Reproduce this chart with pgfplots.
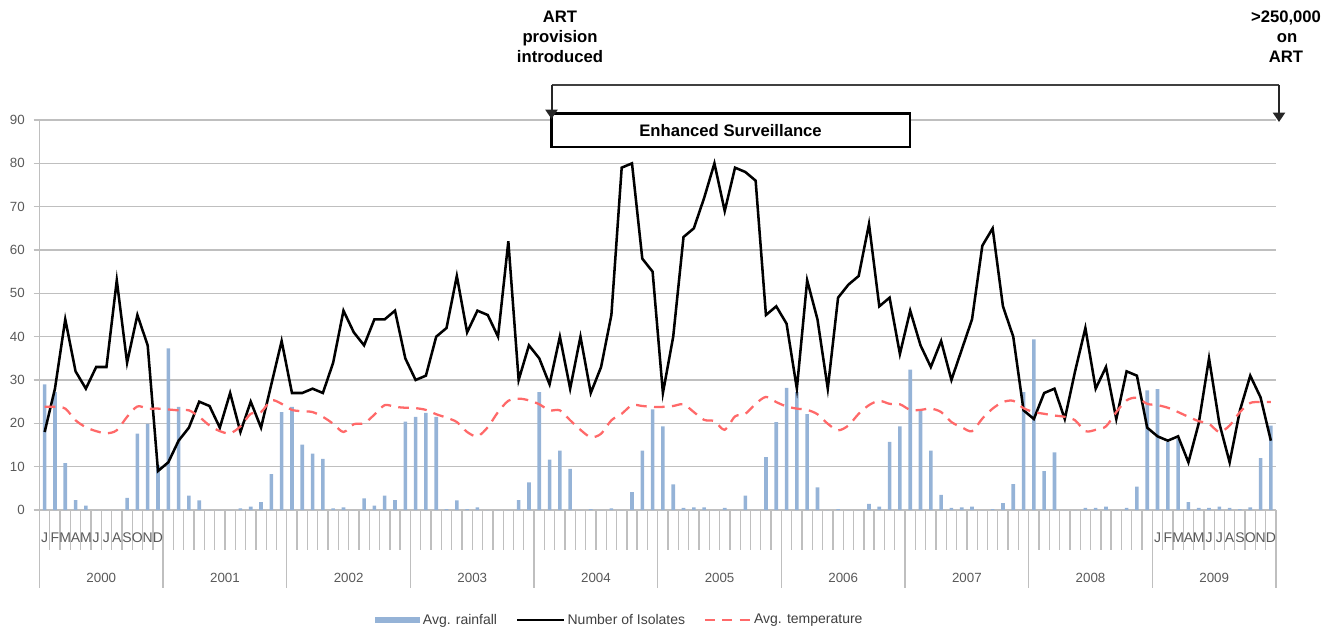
\documentclass[border=0pt]{standalone}
\usepackage{pgfplots}
\usepackage{pgfplotstable}
\pgfplotsset{compat=1.18}
\usepackage{fontspec}
\setmainfont{Liberation Sans}
\usetikzlibrary{arrows.meta}
\definecolor{barblue}{RGB}{149,179,215}
\definecolor{tempred}{RGB}{255,105,105}
\definecolor{gridgray}{RGB}{191,191,191}
\definecolor{labgray}{RGB}{89,89,89}
\definecolor{legtext}{RGB}{64,64,64}
\newcommand\ML[1]{\makebox[7.7281pt][c]{#1}}
\newcommand\annfont{\fontsize{12.5}{15}\selectfont\bfseries}

\pgfplotstableread{
i rain iso temp
0 29.0 18 23.8
1 27.2 28 23.8
2 10.8 44 23.4
3 2.3 32 20.7
4 1.0 28 19.1
5 0 33 18.2
6 0 33 17.7
7 0 53 18.4
8 2.8 34 21.5
9 17.6 45 23.9
10 19.9 38 23.4
11 10.3 9 23.4
12 37.3 11 23.2
13 23.8 16 23.0
14 3.3 19 23.0
15 2.2 25 21.5
16 0 24 19.5
17 0 19 18.2
18 0 27 17.7
19 0.4 18 19.3
20 0.8 25 22.2
21 1.8 19 22.6
22 8.3 29 25.3
23 22.6 39 24.5
24 23.8 27 23.1
25 15.1 27 22.8
26 13.0 28 22.6
27 11.8 27 21.5
28 0.4 34 19.9
29 0.6 46 18.0
30 0 41 19.8
31 2.7 38 20.0
32 1.0 44 22.0
33 3.3 44 24.2
34 2.3 46 23.8
35 20.4 35 23.6
36 21.5 30 23.5
37 22.4 31 23.1
38 21.5 40 22.1
39 0.2 42 21.3
40 2.2 54 20.3
41 0.2 41 18.0
42 0.6 46 17.0
43 0 45 19.1
44 0 40 22.6
45 0 62 25.2
46 2.3 30 25.7
47 6.4 38 25.3
48 27.2 35 24.4
49 11.6 29 23.0
50 13.7 40 23.0
51 9.5 28 20.7
52 0 40 18.5
53 0.2 27 16.8
54 0 33 17.6
55 0.4 45 20.7
56 0 79 22.2
57 4.1 80 24.2
58 13.7 58 24.0
59 23.2 55 23.8
60 19.3 27 23.8
61 5.9 40 24.0
62 0.5 63 24.4
63 0.6 65 22.6
64 0.6 72 20.8
65 0 80 20.5
66 0.5 69 18.5
67 0 79 21.6
68 3.3 78 22.2
69 0 76 24.5
70 12.2 45 26.1
71 20.3 47 24.9
72 28.2 43 23.9
73 27.2 28 23.4
74 22.1 53 23.1
75 5.2 44 22.1
76 0 28 19.9
77 0.2 49 18.4
78 0 52 19.5
79 0 54 22.2
80 1.4 66 24.2
81 0.8 47 25.2
82 15.7 49 24.5
83 19.3 36 24.4
84 32.4 46 23.1
85 22.8 38 23.1
86 13.7 33 23.4
87 3.5 39 22.6
88 0.5 30 20.3
89 0.6 37 19.1
90 0.8 44 18.2
91 0 61 21.1
92 0.2 65 23.4
93 1.6 47 24.9
94 6.0 40 25.2
95 27.2 23 23.5
96 39.4 21 22.6
97 9.0 27 22.2
98 13.3 28 21.8
99 0 21 21.5
100 0 32 20.7
101 0.5 42 18.2
102 0.5 28 18.5
103 0.8 33 19.3
104 0 21 22.6
105 0.5 32 25.3
106 5.4 31 25.9
107 27.6 19 24.5
108 27.9 17 24.2
109 15.7 16 23.6
110 16.4 17 22.6
111 1.8 11 21.5
112 0.5 20 20.5
113 0.5 35 19.9
114 0.8 20 18.0
115 0.5 11 19.5
116 0.2 23 22.6
117 0.6 31 24.7
118 12.0 26 24.9
119 19.5 16 24.9
}\datatable

\begin{document}
\begin{tikzpicture}
\useasboundingbox (0,0) rectangle (1001.25pt,-475.5pt);
\begin{axis}[
  at={(29.625pt,-382.5pt)}, anchor=south west,
  scale only axis, width=927.375pt, height=292.5pt,
  xmin=-0.5, xmax=119.5, ymin=0, ymax=90,
  axis lines*=left,
  axis line style={gridgray, line width=1pt},
  xtick=\empty,
  ytick={0,10,...,90},
  ymajorgrids,
  major grid style={gridgray, line width=1pt},
  tick align=outside, major tick length=4.5pt,
  tick style={gridgray, line width=1pt},
  yticklabel style={font=\fontsize{10}{12}\selectfont, text=labgray, xshift=-3pt},
  /pgf/number format/assume math mode=true,
  clip=false,
  legend columns=3,
  legend cell align=left,
  legend style={at={(0.4695,-0.282)}, anchor=center, draw=none, fill=none,
    font=\fontsize{10.5}{12}\selectfont, text=legtext,
    /tikz/every even column/.append style={column sep=12pt}},
]
\addplot[ybar, bar width=2.7pt, fill=barblue, draw=none,
  legend image code/.code={\fill[barblue] (0pt,-2.2pt) rectangle (34pt,2.2pt);}]
  table[x=i, y=rain] {\datatable};
\addlegendentry{Avg. rainfall}
\addplot[black, line width=1.9pt, mark=none,
  legend image code/.code={\draw[black, line width=1.9pt] (0pt,0pt) -- (35pt,0pt);}]
  table[x=i, y=iso] {\datatable};
\addlegendentry{Number of Isolates}
\addplot[tempred, line width=1.7pt, smooth, mark=none, dash pattern=on 8pt off 5.5pt,
  legend image code/.code={\draw[tempred, line width=1.7pt, dash pattern=on 7.5pt off 5.5pt] (0pt,0pt) -- (34pt,0pt);}]
  table[x=i, y=temp] {\datatable};
\addlegendentry{Avg. temperature}

\pgfplotsinvokeforeach{0,...,120}{
  \draw[gridgray, line width=1pt] (axis cs:#1-0.5,0) -- ++(0pt,-30pt);
}
\pgfplotsinvokeforeach{0,...,10}{
  \draw[gridgray, line width=1pt] (axis cs:12*#1-0.5,0) -- ++(0pt,-58.5pt);
}
\pgfplotsinvokeforeach{0,...,9}{
  \node[font=\fontsize{10}{12}\selectfont, text=labgray, anchor=base, yshift=-54pt] at (axis cs:12*#1+5.5,0) {200#1};
}
\node[font=\fontsize{10.5}{12}\selectfont, text=labgray, anchor=base, inner sep=0pt, yshift=-24pt] at (axis cs:5.5,0)
  {\ML{J}\ML{F}\ML{M}\ML{A}\ML{M}\ML{J}\ML{J}\ML{A}\ML{S}\ML{O}\ML{N}\ML{D}};
\node[font=\fontsize{10.5}{12}\selectfont, text=labgray, anchor=base, inner sep=0pt, yshift=-24pt] at (axis cs:113.5,0)
  {\ML{J}\ML{F}\ML{M}\ML{A}\ML{M}\ML{J}\ML{J}\ML{A}\ML{S}\ML{O}\ML{N}\ML{D}};
\end{axis}

\begin{scope}[x=0.75pt, y=-0.75pt]
  \draw[black, line width=1.8pt, fill=white] (551.5,113.5) rectangle (910,147);
  \node[font=\annfont] at (730.5,130.5) {Enhanced Surveillance};
  \draw[black!75, line width=1.5pt] (551.5,85) -- (1279,85);
  \draw[black!85, line width=1.5pt, -{Triangle[width=9pt,length=7pt]}] (551.5,85) -- (551.5,119);
  \draw[black!85, line width=1.5pt, -{Triangle[width=9pt,length=7pt]}] (1279,85) -- (1279,122);
  \node[font=\annfont, anchor=base] at (560,23) {ART};
  \node[font=\annfont, anchor=base] at (560,43) {provision};
  \node[font=\annfont, anchor=base] at (560,63) {introduced};
  \node[font=\annfont, anchor=base] at (1286,23) {>250,000};
  \node[font=\annfont, anchor=base] at (1287,43) {on};
  \node[font=\annfont, anchor=base] at (1286,63) {ART};
\end{scope}
\end{tikzpicture}
\end{document}
